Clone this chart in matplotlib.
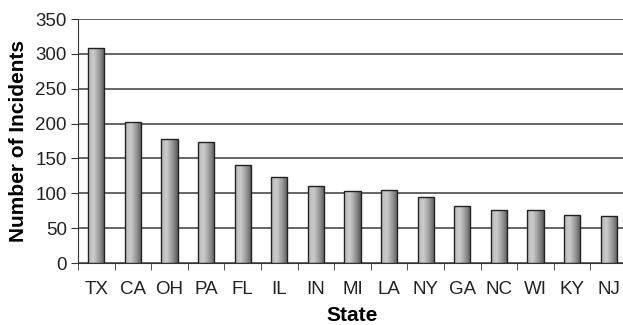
import numpy as np
import matplotlib
matplotlib.use("Agg")
import matplotlib.pyplot as plt

# data
states = ["TX", "CA", "OH", "PA", "FL", "IL", "IN", "MI", "LA", "NY",
          "GA", "NC", "WI", "KY", "NJ"]
incidents = [308, 202, 178, 173, 140, 124, 110, 103, 105, 95,
             82, 76, 76, 69, 67]
yticks = [0, 50, 100, 150, 200, 250, 300, 350]

plt.rcParams["font.family"] = ["Liberation Sans", "DejaVu Sans"]

fig = plt.figure(figsize=(6.23, 3.25), dpi=100)
ax = fig.add_axes([78 / 623, 62 / 325, (627 - 78) / 623, 244 / 325])

x = np.arange(len(states))
bars = ax.bar(x, incidents, width=0.44, color="none", edgecolor="#222222",
              linewidth=1.0, zorder=3)

# horizontal gradient inside each bar
grad = np.linspace(0, 1, 64).reshape(1, -1)
cmap = matplotlib.colors.LinearSegmentedColormap.from_list(
    "g", ["#b8b8b8", "#cccccc", "#999999", "#5a5a5a"])
for b in bars:
    x0, y0 = b.get_x(), b.get_y()
    w, h = b.get_width(), b.get_height()
    im = ax.imshow(grad, extent=[x0, x0 + w, y0, y0 + h], aspect="auto",
                   cmap=cmap, zorder=2, interpolation="bilinear")
    im.set_clip_path(b)

ax.set_xlim(-0.5, len(states) - 0.5)
ax.set_ylim(0, 350)
ax.set_yticks(yticks)
ax.yaxis.grid(True, color="#3a3a3a", linewidth=1.1, zorder=1)
ax.set_axisbelow(True)

ax.set_xticks(x)
ax.set_xticklabels(states, fontsize=13.5, color="#222222")
ax.set_xticks(np.arange(-0.5, len(states), 1), minor=True)
ax.tick_params(axis="x", which="major", length=0, pad=13)
ax.tick_params(axis="x", which="minor", length=5, color="#333333")
ax.tick_params(axis="y", labelsize=13.5, length=5, color="#333333",
               labelcolor="#222222", pad=3)

for s in ["top", "right"]:
    ax.spines[s].set_visible(False)
ax.spines["left"].set_color("#333333")
ax.spines["bottom"].set_color("#333333")

ax.set_xlabel("State", fontsize=15, fontweight="bold", labelpad=6)
ax.set_ylabel("Number of Incidents", fontsize=15, fontweight="bold", labelpad=5)

fig.savefig("out.png", dpi=100)
